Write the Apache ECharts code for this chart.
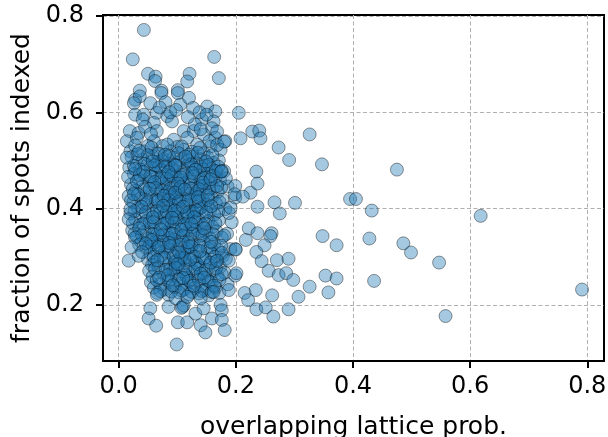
<!DOCTYPE html>
<html>
<head>
<meta charset="utf-8">
<script src="https://cdn.jsdelivr.net/npm/echarts@6/dist/echarts.min.js"></script>
<style>
  html, body { margin: 0; padding: 0; background: #fff; }
  #chart { width: 608px; height: 437px; }
</style>
</head>
<body>
<div id="chart"></div>
<script>
// tick values shown on the axes
const xTicks = [0.0, 0.2, 0.4, 0.6, 0.8];
const yTicks = [0.2, 0.4, 0.6, 0.8];

// points: [overlapping lattice prob., fraction of spots indexed]
const upperPoints = [
  [0.043,0.771],[0.024,0.710],[0.050,0.680],[0.063,0.674],[0.062,0.665],[0.163,0.715],[0.121,0.680],
  [0.117,0.664],[0.171,0.671],[0.073,0.645],[0.101,0.646],[0.036,0.645],
  [0.028,0.626],[0.036,0.633],[0.026,0.619],[0.073,0.640],[0.054,0.619],[0.080,0.621],[0.101,0.640],
  [0.105,0.616],[0.120,0.630],[0.127,0.609],[0.151,0.612],[0.165,0.602],
  [0.028,0.595],[0.043,0.595],[0.065,0.599],[0.083,0.592],[0.091,0.581],[0.142,0.585],[0.162,0.581],
  [0.159,0.567],[0.060,0.578],[0.065,0.561],[0.019,0.561],[0.034,0.557],[0.111,0.561],[0.128,0.561],
  [0.145,0.554],[0.165,0.547],[0.182,0.540],
  [0.014,0.540],[0.031,0.547],[0.060,0.540],[0.094,0.543],[0.117,0.547],[0.134,0.533],[0.157,0.529],
  [0.174,0.522],[0.020,0.519],[0.043,0.519],[0.065,0.515],[0.088,0.519],[0.111,0.522],[0.145,0.515],
  [0.088,0.600],[0.138,0.600],[0.075,0.530],[0.100,0.528],[0.125,0.518],[0.050,0.530],[0.155,0.540],
  [0.130,0.575],[0.045,0.570]
];

const corePoints = [
  [0.022,0.507],[0.041,0.502],[0.058,0.509],[0.077,0.503],[0.093,0.506],[0.108,0.501],[0.126,0.508],[0.139,0.503],[0.152,0.506],[0.171,0.500],
  [0.030,0.495],[0.049,0.491],[0.066,0.497],[0.085,0.492],[0.101,0.496],[0.118,0.490],[0.133,0.494],[0.147,0.489],[0.162,0.495],
  [0.018,0.485],[0.037,0.481],[0.055,0.486],[0.072,0.480],[0.090,0.484],[0.112,0.479],[0.128,0.485],[0.144,0.481],[0.158,0.483],[0.180,0.478],
  [0.026,0.472],[0.045,0.468],[0.063,0.474],[0.081,0.470],[0.097,0.467],[0.115,0.473],[0.137,0.469],[0.151,0.472],[0.166,0.466],
  [0.034,0.461],[0.052,0.457],[0.069,0.462],[0.087,0.458],[0.104,0.461],[0.122,0.456],[0.140,0.460],[0.155,0.455],[0.173,0.459],
  [0.021,0.450],[0.040,0.446],[0.060,0.449],[0.078,0.444],[0.094,0.447],[0.111,0.451],[0.129,0.445],[0.146,0.448],[0.162,0.443],[0.186,0.446],
  [0.029,0.437],[0.048,0.433],[0.066,0.438],[0.083,0.434],[0.101,0.436],[0.119,0.431],[0.134,0.437],[0.150,0.433],[0.169,0.435],
  [0.017,0.426],[0.038,0.421],[0.056,0.425],[0.074,0.420],[0.090,0.424],[0.108,0.422],[0.125,0.426],[0.143,0.420],[0.159,0.423],[0.177,0.419],
  [0.025,0.413],[0.044,0.409],[0.063,0.414],[0.081,0.410],[0.098,0.412],[0.116,0.408],[0.132,0.414],[0.148,0.409],[0.166,0.411],
  [0.033,0.401],[0.051,0.397],[0.070,0.402],[0.087,0.398],[0.105,0.400],[0.122,0.396],[0.139,0.401],[0.156,0.397],[0.182,0.399],
  [0.020,0.390],[0.041,0.386],[0.059,0.389],[0.077,0.385],[0.094,0.388],[0.112,0.384],[0.128,0.390],[0.145,0.386],[0.163,0.388],
  [0.028,0.378],[0.047,0.374],[0.066,0.379],[0.084,0.375],[0.101,0.377],[0.119,0.373],[0.136,0.378],[0.153,0.374],[0.171,0.376],[0.193,0.372],
  [0.036,0.366],[0.055,0.362],[0.073,0.367],[0.090,0.363],[0.108,0.365],[0.125,0.361],[0.142,0.366],[0.160,0.362],
  [0.023,0.355],[0.044,0.351],[0.062,0.354],[0.080,0.350],[0.097,0.353],[0.114,0.349],[0.131,0.355],[0.149,0.351],[0.167,0.353],[0.185,0.348],
  [0.031,0.342],[0.051,0.338],[0.069,0.343],[0.086,0.339],[0.104,0.341],[0.121,0.337],[0.138,0.342],[0.156,0.338],[0.176,0.340],
  [0.039,0.330],[0.058,0.326],[0.076,0.331],[0.093,0.327],[0.110,0.329],[0.127,0.325],[0.145,0.330],[0.163,0.326],
  [0.047,0.318],[0.065,0.314],[0.083,0.319],[0.100,0.315],[0.117,0.317],[0.134,0.313],[0.152,0.318],[0.170,0.314],[0.190,0.316],
  [0.054,0.306],[0.072,0.302],[0.089,0.307],[0.107,0.303],[0.124,0.305],[0.141,0.301],[0.159,0.306],[0.178,0.302],
  [0.050,0.294],[0.061,0.289],[0.079,0.295],[0.096,0.291],[0.113,0.293],[0.131,0.289],[0.148,0.294],[0.166,0.290],
  [0.057,0.283],[0.068,0.278],[0.086,0.284],[0.103,0.280],[0.120,0.282],[0.138,0.277],[0.155,0.283],[0.173,0.279],
  [0.052,0.271],[0.075,0.267],[0.093,0.272],[0.110,0.268],[0.127,0.270],[0.145,0.266],[0.162,0.271],[0.181,0.267],
  [0.058,0.259],[0.082,0.255],[0.099,0.260],[0.117,0.256],[0.134,0.258],[0.151,0.254],[0.169,0.259],
  [0.055,0.247],[0.071,0.243],[0.089,0.248],[0.106,0.244],[0.123,0.246],[0.141,0.242],[0.158,0.247],[0.186,0.243],
  [0.060,0.236],[0.078,0.232],[0.096,0.237],[0.113,0.233],[0.130,0.235],[0.147,0.231],[0.165,0.236],
  [0.066,0.225],[0.085,0.221],[0.103,0.226],[0.120,0.222],[0.137,0.224],[0.154,0.220],[0.172,0.225],
  // darker middle
  [0.068,0.487],[0.095,0.478],[0.121,0.462],[0.076,0.452],[0.104,0.441],[0.087,0.428],[0.116,0.417],[0.064,0.419],
  [0.092,0.406],[0.127,0.393],[0.071,0.392],[0.099,0.382],[0.083,0.371],[0.114,0.358],[0.066,0.347],[0.095,0.335],
  [0.124,0.322],[0.079,0.311],[0.106,0.297],[0.134,0.285],[0.088,0.273],[0.115,0.262],[0.074,0.499],[0.118,0.500],
  [0.057,0.466],[0.140,0.447],[0.048,0.412],[0.141,0.403],[0.053,0.371],[0.137,0.352],[0.082,0.462],[0.109,0.470],
  [0.098,0.423],[0.072,0.437],[0.131,0.430],[0.089,0.349],[0.118,0.386],[0.061,0.330],[0.112,0.311],[0.097,0.289]
];

const fillPoints = [
  [0.028,0.531],[0.056,0.527],[0.083,0.533],[0.108,0.529],[0.139,0.526],[0.168,0.532],
  [0.032,0.513],[0.050,0.511],[0.068,0.514],[0.086,0.510],[0.102,0.515],[0.120,0.512],[0.135,0.516],[0.160,0.511],
  [0.026,0.489],[0.044,0.493],[0.062,0.490],[0.080,0.488],[0.096,0.491],[0.124,0.492],[0.140,0.487],[0.154,0.491],[0.170,0.487],
  [0.016,0.466],[0.036,0.470],[0.054,0.467],[0.073,0.465],[0.090,0.469],[0.106,0.465],[0.128,0.467],[0.145,0.464],[0.160,0.468],[0.183,0.463],
  [0.024,0.441],[0.044,0.440],[0.063,0.443],[0.088,0.441],[0.106,0.445],[0.123,0.442],[0.138,0.440],[0.155,0.441],[0.175,0.444],
  [0.021,0.417],[0.047,0.419],[0.067,0.416],[0.085,0.418],[0.103,0.415],[0.120,0.419],[0.137,0.416],[0.153,0.418],[0.172,0.414],
  [0.027,0.395],[0.046,0.392],[0.065,0.395],[0.082,0.393],[0.100,0.394],[0.117,0.391],[0.133,0.396],[0.150,0.392],[0.170,0.395],[0.188,0.391],
  [0.024,0.370],[0.042,0.369],[0.060,0.372],[0.078,0.369],[0.096,0.371],[0.113,0.368],[0.131,0.372],[0.148,0.369],[0.165,0.370],
  [0.027,0.348],[0.040,0.345],[0.058,0.347],[0.075,0.345],[0.092,0.348],[0.110,0.344],[0.126,0.348],[0.143,0.345],[0.161,0.347],[0.180,0.344],
  [0.035,0.325],[0.052,0.321],[0.070,0.324],[0.088,0.322],[0.105,0.325],[0.121,0.321],[0.139,0.323],[0.157,0.320],[0.175,0.323],
  [0.060,0.300],[0.077,0.298],[0.094,0.301],[0.112,0.297],[0.129,0.300],[0.146,0.297],[0.164,0.300],[0.183,0.296],
  [0.062,0.275],[0.080,0.273],[0.097,0.277],[0.114,0.274],[0.131,0.276],[0.149,0.273],[0.166,0.276],
  [0.065,0.252],[0.086,0.250],[0.103,0.253],[0.120,0.250],[0.137,0.252],[0.154,0.249],[0.172,0.252],
  [0.071,0.229],[0.090,0.228],[0.108,0.230],[0.125,0.227],[0.142,0.229],[0.159,0.227]
];

const densePoints = [
  [0.035,0.520],[0.058,0.498],[0.079,0.512],[0.097,0.489],[0.114,0.508],[0.131,0.481],[0.149,0.498],
  [0.042,0.476],[0.061,0.455],[0.085,0.476],[0.101,0.452],[0.126,0.474],[0.144,0.454],[0.166,0.478],
  [0.033,0.429],[0.053,0.441],[0.077,0.427],[0.096,0.433],[0.113,0.440],[0.135,0.424],[0.152,0.427],
  [0.039,0.404],[0.058,0.382],[0.076,0.406],[0.095,0.396],[0.110,0.404],[0.129,0.382],[0.158,0.405],
  [0.035,0.359],[0.056,0.335],[0.072,0.357],[0.091,0.381],[0.107,0.356],[0.124,0.368],[0.146,0.359],
  [0.046,0.328],[0.068,0.320],[0.086,0.329],[0.103,0.309],[0.119,0.330],[0.139,0.312],[0.158,0.331],
  [0.066,0.293],[0.084,0.262],[0.101,0.285],[0.122,0.294],[0.140,0.265],[0.157,0.288],[0.176,0.308],
  [0.069,0.257],[0.092,0.241],[0.110,0.256],[0.128,0.240],[0.146,0.257],[0.163,0.240],
  [0.041,0.585],[0.070,0.610],[0.098,0.605],[0.118,0.590],[0.150,0.595],[0.055,0.555],[0.140,0.565],[0.168,0.560]
];

const edgePoints = [
  // bottom of the cluster
  [0.054,0.193],[0.051,0.172],[0.064,0.157],[0.099,0.118],[0.101,0.164],[0.117,0.164],[0.109,0.196],[0.111,0.199],
  [0.107,0.194],[0.140,0.158],[0.148,0.143],[0.131,0.182],[0.145,0.193],[0.159,0.172],[0.174,0.200],[0.176,0.189],
  [0.176,0.169],[0.181,0.148],[0.085,0.196],[0.065,0.221],[0.097,0.214],[0.117,0.217],[0.140,0.214],[0.162,0.227],
  [0.188,0.231],
  // left side
  [0.014,0.506],[0.028,0.482],[0.031,0.457],[0.026,0.430],[0.020,0.399],[0.017,0.378],[0.028,0.340],[0.017,0.292],
  [0.034,0.302],[0.022,0.320],[0.040,0.310],
  // right side
  [0.176,0.478],[0.168,0.447],[0.199,0.447],[0.199,0.423],[0.191,0.402],[0.157,0.461],[0.175,0.477],[0.180,0.539],
  [0.199,0.316],[0.188,0.292],[0.168,0.292],[0.176,0.264],[0.199,0.261]
];

const outlierPoints = [
  [0.205,0.599],[0.208,0.546],[0.228,0.560],[0.240,0.562],[0.242,0.546],[0.273,0.527],[0.291,0.501],[0.326,0.554],
  [0.347,0.492],[0.475,0.481],[0.235,0.477],[0.237,0.452],[0.225,0.433],[0.198,0.430],[0.212,0.425],[0.266,0.413],
  [0.301,0.412],[0.275,0.390],[0.237,0.404],[0.395,0.420],[0.405,0.420],[0.432,0.396],[0.348,0.343],[0.372,0.324],
  [0.428,0.338],[0.486,0.328],[0.499,0.309],[0.222,0.359],[0.237,0.349],[0.261,0.349],[0.259,0.343],[0.217,0.335],
  [0.249,0.324],[0.235,0.310],[0.244,0.291],[0.270,0.293],[0.290,0.296],[0.256,0.271],[0.273,0.262],[0.286,0.266],
  [0.298,0.252],[0.353,0.261],[0.372,0.255],[0.436,0.250],[0.326,0.238],[0.307,0.217],[0.358,0.226],[0.215,0.225],
  [0.234,0.231],[0.221,0.210],[0.262,0.220],[0.235,0.191],[0.251,0.195],[0.290,0.191],[0.264,0.176],[0.200,0.315],
  [0.201,0.266],[0.618,0.385],[0.547,0.288],[0.791,0.232],[0.558,0.177]
];

const allPoints = [...upperPoints, ...corePoints, ...fillPoints, ...densePoints, ...edgePoints, ...outlierPoints];

const font = 'DejaVu Sans';
const chart = echarts.init(document.getElementById('chart'), null, { renderer: 'canvas' });

const gridLine = { show: true, lineStyle: { color: '#b0b0b0', width: 1, type: [4, 2.5] } };

chart.setOption({
  animation: false,
  grid: {
    left: 103, right: 4, top: 15, bottom: 76,
    outerBoundsMode: 'none', containLabel: false,
    show: true, borderColor: '#000', borderWidth: 2, backgroundColor: 'transparent'
  },
  xAxis: {
    type: 'value',
    min: -0.0268, max: 0.8285,
    name: 'overlapping lattice prob.',
    nameLocation: 'middle', nameGap: 54,
    nameTextStyle: { fontFamily: font, fontSize: 25, color: '#000' },
    axisLine: { show: true, onZero: false, lineStyle: { color: '#000', width: 2 } },
    axisTick: { show: true, customValues: xTicks, length: 7, lineStyle: { color: '#000', width: 2 } },
    axisLabel: { customValues: xTicks, margin: 14, fontFamily: font, fontSize: 24, color: '#000',
      formatter: v => v.toFixed(1) },
    splitLine: gridLine
  },
  yAxis: {
    type: 'value',
    min: 0.0837, max: 0.802,
    name: 'fraction of spots indexed',
    nameLocation: 'middle', nameGap: 68,
    nameTextStyle: { fontFamily: font, fontSize: 25, color: '#000' },
    axisLine: { show: true, onZero: false, lineStyle: { color: '#000', width: 2 } },
    axisTick: { show: true, customValues: yTicks, length: 7, lineStyle: { color: '#000', width: 2 } },
    axisLabel: { customValues: yTicks, margin: 19, fontFamily: font, fontSize: 24, color: '#000',
      formatter: v => v.toFixed(1) },
    splitLine: gridLine
  },
  series: [{
    type: 'scatter',
    data: allPoints,
    symbolSize: 13,
    itemStyle: {
      color: 'rgba(31,119,180,0.5)',
      borderColor: 'rgba(0,0,0,0.5)',
      borderWidth: 1
    }
  }]
});
</script>
</body>
</html>
